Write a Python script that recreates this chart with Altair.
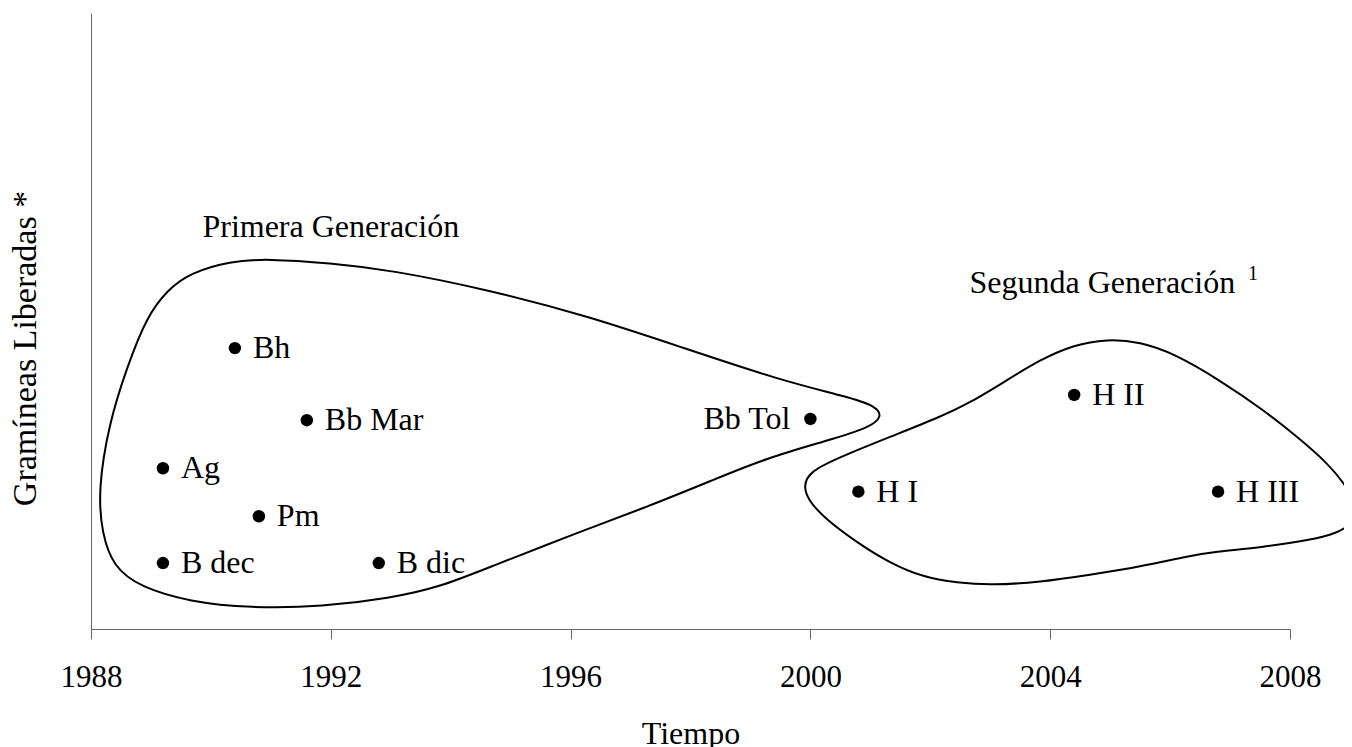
import altair as alt
import pandas as pd

# ---- points (year released, vertical level) ----
names = ["Bh", "Bb Mar", "Ag", "Pm", "B dec", "B dic", "Bb Tol", "H I", "H II", "H III"]
years = [1990.4, 1991.6, 1989.2, 1990.8, 1989.2, 1992.8, 2000.0, 2000.8, 2004.4, 2006.8]
levels = [4.56, 3.39, 2.61, 1.83, 1.07, 1.07, 3.41, 2.23, 3.80, 2.23]
label_left = ["Bb Tol"]

# ---- hand-drawn group outlines (data units) ----
primera_x = [1988.93, 1989.27, 1989.65, 1990.32, 1990.94, 1991.99, 1992.99, 1994.66, 1996.32,
             1997.83, 1999.49, 2000.61, 2001.10, 2001.20, 2000.98, 2000.33, 1999.28, 1998.38,
             1997.27, 1996.16, 1994.66, 1993.82, 1992.99, 1991.87, 1990.65, 1989.65, 1988.82,
             1988.37, 1988.18, 1988.12, 1988.30, 1988.60]
primera_y = [5.07, 5.50, 5.78, 5.97, 6.01, 5.94, 5.83, 5.50, 5.07,
             4.58, 4.04, 3.77, 3.62, 3.44, 3.27, 3.07, 2.78, 2.42,
             1.98, 1.58, 1.01, 0.68, 0.50, 0.36, 0.34, 0.44, 0.68,
             1.01, 1.56, 2.26, 3.34, 4.25]
segunda_x = [1999.88, 1999.99, 2000.49, 2001.33, 2002.16, 2002.66, 2003.28, 2003.83, 2004.38,
             2004.95, 2005.50, 2006.05, 2006.83, 2007.55, 2008.12, 2008.62, 2008.95, 2009.12,
             2009.02, 2008.78, 2008.38, 2007.55, 2006.72, 2006.33, 2005.50, 2004.66, 2003.83,
             2003.00, 2002.45, 2001.88, 2001.33, 2000.78, 2000.21, 1999.97]
segunda_y = [2.32, 2.56, 2.79, 3.12, 3.44, 3.67, 4.04, 4.37, 4.61,
             4.71, 4.66, 4.48, 4.04, 3.56, 3.12, 2.70, 2.31, 1.96,
             1.69, 1.56, 1.45, 1.33, 1.25, 1.19, 1.01, 0.88, 0.76,
             0.71, 0.75, 0.84, 1.07, 1.40, 1.82, 2.09]

# ---- group titles ----
group_names = ["Primera Generación", "Segunda Generación"]
group_x = [1992.0, 2004.87]
group_y = [6.36, 5.45]
sup_text = ["1"]
sup_x = [2007.30]
sup_y = [5.66]

x_ticks = [1988, 1992, 1996, 2000, 2004, 2008]

FONT = "Liberation Serif"
AXIS_COLOR = "#666666"

outline = pd.concat([
    pd.DataFrame({"x": primera_x, "y": primera_y, "g": "Primera", "o": range(len(primera_x))}),
    pd.DataFrame({"x": segunda_x, "y": segunda_y, "g": "Segunda", "o": range(len(segunda_x))}),
])
pts = pd.DataFrame({"x": years, "y": levels, "name": names})
pts_right = pts[~pts["name"].isin(label_left)]
pts_left = pts[pts["name"].isin(label_left)]
groups = pd.DataFrame({"x": group_x, "y": group_y, "name": group_names})
sups = pd.DataFrame({"x": sup_x, "y": sup_y, "name": sup_text})

xs = alt.Scale(domain=[1988, 2008], nice=False, zero=False)
ys = alt.Scale(domain=[0, 10], nice=False, zero=False)

x_enc = alt.X("x:Q", scale=xs, title="Tiempo",
              axis=alt.Axis(values=x_ticks, format="d", grid=False,
                            domainColor=AXIS_COLOR, tickColor=AXIS_COLOR,
                            tickSize=10, labelFontSize=31, labelFont=FONT,
                            labelColor="black", labelPadding=23, labelFlush=False,
                            titleFont=FONT, titleFontSize=32, titleFontWeight="normal",
                            titleColor="black", titleBaseline="alphabetic", titleY=114))
y_enc = alt.Y("y:Q", scale=ys, title="Gramíneas Liberadas *",
              axis=alt.Axis(labels=False, ticks=False, grid=False, domainColor=AXIS_COLOR,
                            titleFont=FONT, titleFontSize=34, titleFontWeight="normal",
                            titleColor="black", titleX=-66, titleY=335,
                            titleBaseline="middle", titleAlign="center", titleAngle=270))

lines = alt.Chart(outline).mark_line(
    interpolate="basis-closed", color="black", strokeWidth=2
).encode(x=x_enc, y=y_enc, detail="g:N", order="o:Q")

dots = alt.Chart(pts).mark_circle(size=155, color="black", opacity=1).encode(x=x_enc, y=y_enc)

lab_r = alt.Chart(pts_right).mark_text(
    align="left", baseline="middle", dx=18, font=FONT, fontSize=32, color="black"
).encode(x=x_enc, y=y_enc, text="name:N")

lab_l = alt.Chart(pts_left).mark_text(
    align="right", baseline="middle", dx=-20, font=FONT, fontSize=32, color="black"
).encode(x=x_enc, y=y_enc, text="name:N")

grp = alt.Chart(groups).mark_text(
    align="center", baseline="alphabetic", font=FONT, fontSize=32, color="black"
).encode(x=x_enc, y=y_enc, text="name:N")

sup = alt.Chart(sups).mark_text(
    align="left", baseline="alphabetic", font=FONT, fontSize=20, color="black"
).encode(x=x_enc, y=y_enc, text="name:N")

chart = alt.layer(lines, dots, lab_r, lab_l, grp, sup).properties(
    width=1199, height=616,
    autosize=alt.AutoSizeParams(type="none"),
    padding={"left": 83, "top": 5, "right": 54, "bottom": 118},
).configure_view(stroke=None)

chart.save("out.html", embed_options={"renderer": "svg", "actions": False})
